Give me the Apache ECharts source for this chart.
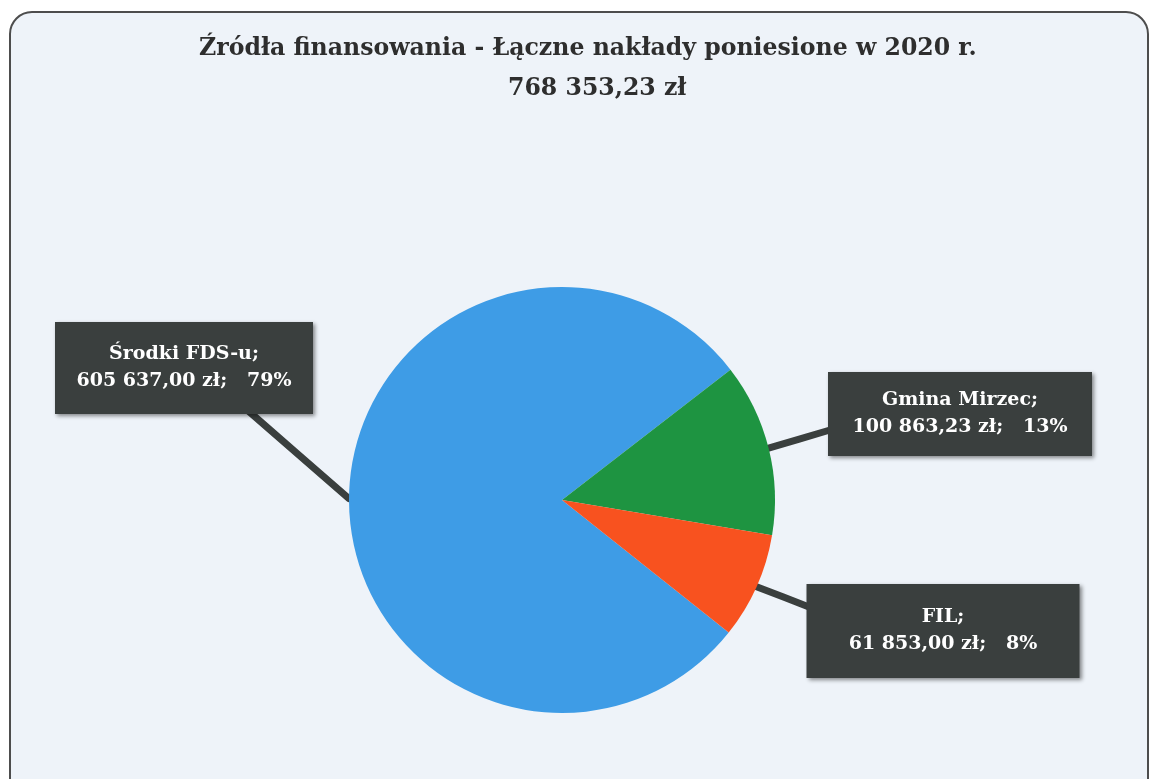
<!DOCTYPE html>
<html>
<head>
<meta charset="utf-8">
<script src="https://cdn.jsdelivr.net/npm/echarts@6/dist/echarts.min.js"></script>
<style>html,body{margin:0;padding:0;background:#ffffff;}#chart{width:1154px;height:779px;}</style>
</head>
<body>
<div id="chart"></div>
<script>
var titleLines = ['Źródła finansowania - Łączne nakłady poniesione w 2020 r.', '768 353,23 zł'];
var categories = ['Środki FDS-u', 'Gmina Mirzec', 'FIL'];
var values = [605637.00, 100863.23, 61853.00];
var sliceColors = ['#3e9ce6', '#1e9441', '#f8521f'];

// label box placement (layout only)
var boxCenters = [[184, 368], [960, 414], [943, 631]];
var boxWidths = [258, 264, 273];
var boxPadV = [19, 15, 20];
var pointerBase = [[245, 408], [830, 430], [809, 607]];

function fmtPl(v) {
  var parts = v.toFixed(2).split('.');
  var intPart = parts[0].replace(/\B(?=(\d{3})+(?!\d))/g, ' ');
  return intPart + ',' + parts[1];
}

var FONT = 'DejaVu Serif';
var BOX = '#3a3f3e';

var chart = echarts.init(document.getElementById('chart'), null, {renderer: 'canvas'});
var data = categories.map(function (c, i) {
  return {
    name: c,
    value: values[i],
    itemStyle: {color: sliceColors[i]},
    label: {width: boxWidths[i], padding: [boxPadV[i], 0, boxPadV[i], 0]}
  };
});

var titleStyle = {fontFamily: FONT, fontWeight: 'bold', fontSize: 23.6, color: '#2e2e2e'};

chart.setOption({
  backgroundColor: '#ffffff',
  animation: false,
  graphic: [{
    type: 'rect', z: -10, silent: true,
    shape: {x: 10, y: 12, width: 1138, height: 830, r: 22},
    style: {fill: '#eef3f9', stroke: '#4d4d4d', lineWidth: 2}
  }],
  title: [
    {text: titleLines[0], left: 199, top: 37, padding: 0, textStyle: titleStyle},
    {text: titleLines[1], left: 508, top: 77, padding: 0, textStyle: titleStyle}
  ],
  series: [{
    type: 'pie',
    center: [562, 500],
    radius: [0, 213],
    startAngle: -38.5,
    clockwise: true,
    data: data,
    label: {
      show: true,
      position: 'outside',
      fontFamily: FONT,
      fontWeight: 'bold',
      fontSize: 19,
      lineHeight: 27,
      color: '#ffffff',
      align: 'center',
      backgroundColor: BOX,
      shadowColor: 'rgba(0,0,0,0.45)',
      shadowBlur: 4,
      shadowOffsetX: 2,
      shadowOffsetY: 2,
      formatter: function (p) {
        return p.name + ';\n' + fmtPl(p.value) + ' zł;   ' + Math.round(p.percent) + '%';
      }
    },
    labelLine: {
      show: true,
      length: 20,
      length2: 10,
      lineStyle: {color: BOX, width: 7, cap: 'round'}
    },
    labelLayout: function (p) {
      var c = boxCenters[p.dataIndex];
      var tip = p.labelLinePoints ? p.labelLinePoints[0] : null;
      var res = {x: c[0], y: c[1], align: 'center', verticalAlign: 'middle'};
      if (tip) {
        var b = pointerBase[p.dataIndex];
        res.labelLinePoints = [tip, [(tip[0] + b[0]) / 2, (tip[1] + b[1]) / 2], b];
      }
      return res;
    },
    emphasis: {disabled: true}
  }]
});
</script>
</body>
</html>
